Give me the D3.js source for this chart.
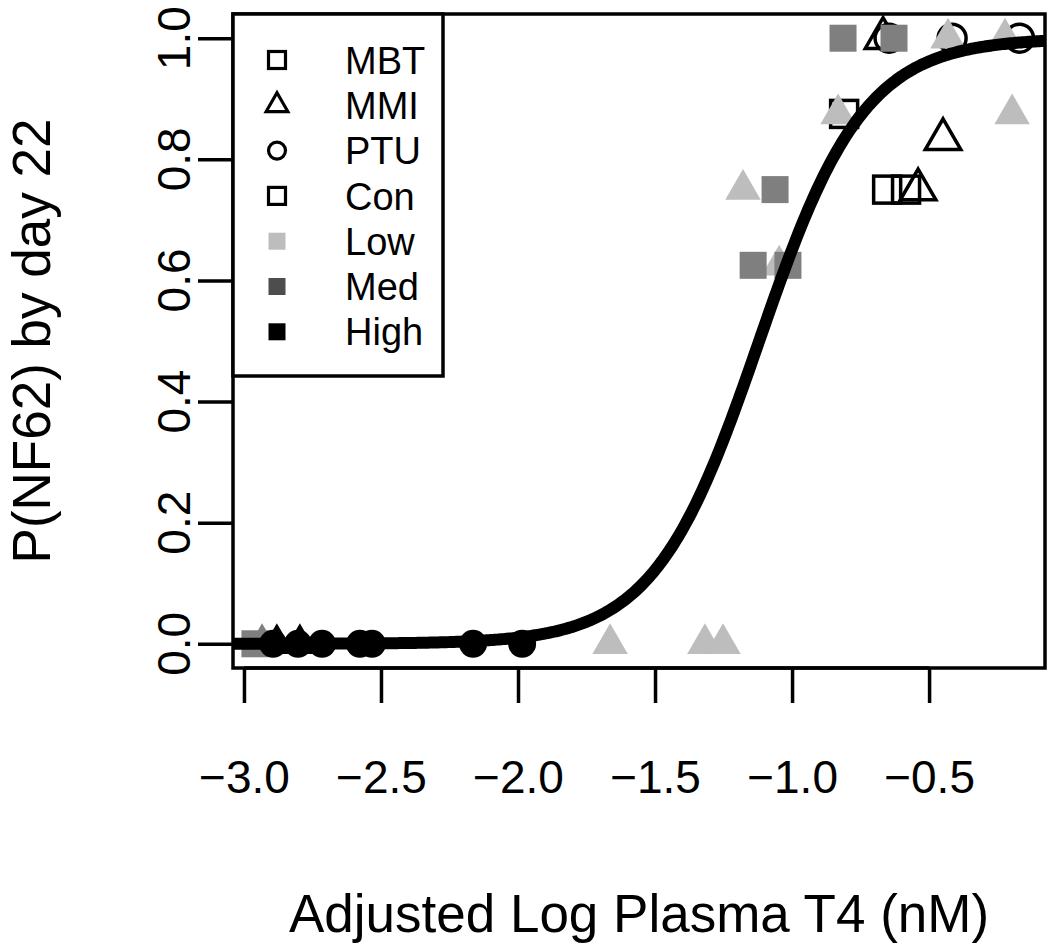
<!DOCTYPE html>
<html>
<head>
<meta charset="utf-8">
<script src="https://cdn.jsdelivr.net/npm/d3@7"></script>
<style>
  html, body { margin: 0; padding: 0; background: #fff; }
  svg { display: block; }
  text { font-family: "Liberation Sans", Arial, Helvetica, sans-serif; fill: #000; }
</style>
</head>
<body>
<svg id="chart" width="1050" height="948"></svg>
<script>
// ---------------- data (x = adjusted log plasma T4, p = P(NF62) by day 22) ----------------
const xTicks = [-3.0, -2.5, -2.0, -1.5, -1.0, -0.5];
const yTicks = [0.0, 0.2, 0.4, 0.6, 0.8, 1.0];

// control groups (open symbols, shape by chemical)
const conMBT = [[-0.810, 0.875], [-0.653, 0.75], [-0.584, 0.75]];
const conMMI = [[-0.668, 1.0], [-0.449, 0.833], [-0.540, 0.75]];
const conPTU = [[-0.646, 1.0], [-0.416, 1.0], [-0.170, 1.0]];

// treated groups (filled symbols, colour by dose)
const lowMMI  = [[-0.832, 0.875], [-0.431, 1.0], [-0.223, 1.0], [-0.197, 0.875],
                 [-1.179, 0.75], [-1.047, 0.625], [-1.664, 0.0], [-1.318, 0.0], [-1.252, 0.0]];
const medMMI  = [[-2.934, 0.0]];
const highMMI = [[-2.880, 0.0], [-2.796, 0.0]];
const medMBT  = [[-0.814, 1.0], [-0.628, 1.0], [-1.062, 0.75], [-1.142, 0.625], [-1.015, 0.625], [-2.960, 0.0]];
const highPTU = [[-2.894, 0.0], [-2.803, 0.0], [-2.715, 0.0], [-2.577, 0.0], [-2.533, 0.0], [-2.164, 0.0], [-1.985, 0.0]];

// fitted logistic curve coefficients
const fitCenter = -1.12;
const fitSlope = 5.2;

const legendLabels = ["MBT", "MMI", "PTU", "Con", "Low", "Med", "High"];
const legendShapes = ["squareOpen", "triangleOpen", "circleOpen", "squareOpen", "square", "square", "square"];

// ---------------- styling ----------------
const COL_LOW = "#bdbdbd", COL_MED = "#7f7f7f", COL_MED_LEG = "#4d4d4d", COL_HIGH = "#000000";
const legendColors = ["#000", "#000", "#000", "#000", COL_LOW, COL_MED_LEG, COL_HIGH];

const box = {left: 233, right: 1045, top: 14, bottom: 668};
const svg = d3.select("#chart");

const x = d3.scaleLinear().domain([-3.04, -0.077]).range([box.left, box.right]);
const y = d3.scaleLinear().domain([-0.04, 1.04]).range([box.bottom, box.top]);

const fmt = v => (v < 0 ? "\u2212" : "") + Math.abs(v).toFixed(1);

// symbol drawing (R-like pch geometry)
function drawSymbol(g, shape, cx, cy, s, color) {
  const sw = s.sw;
  if (shape === "square" || shape === "squareOpen") {
    const h = s.sq / 2;
    g.append("rect").attr("x", cx - h).attr("y", cy - h).attr("width", 2*h).attr("height", 2*h)
      .attr("fill", shape === "square" ? color : "none")
      .attr("stroke", shape === "square" ? "none" : color).attr("stroke-width", sw);
  } else if (shape === "circle" || shape === "circleOpen") {
    g.append("circle").attr("cx", cx).attr("cy", cy).attr("r", s.ci / 2)
      .attr("fill", shape === "circle" ? color : "none")
      .attr("stroke", shape === "circle" ? "none" : color).attr("stroke-width", sw);
  } else {
    const r = s.tr, xc = r * Math.sqrt(3) / 2, yc = r / 2;
    const pts = [[cx, cy - r], [cx + xc, cy + yc], [cx - xc, cy + yc]];
    g.append("path").attr("d", "M" + pts.map(p => p.join(",")).join("L") + "Z")
      .attr("fill", shape === "triangle" ? color : "none")
      .attr("stroke", shape === "triangle" ? "none" : color).attr("stroke-width", sw)
      .attr("stroke-linejoin", "miter");
  }
}

const ptSize = {sq: 27, ci: 28, tr: 20.5, sw: 3.5};
const ptsG = svg.append("g");
function plotGroup(data, shape, color) {
  data.forEach(d => drawSymbol(ptsG, shape, x(d[0]), y(d[1]), ptSize, color));
}

// draw order: controls, triangles, squares, circles
plotGroup(conMBT, "squareOpen", "#000");
plotGroup(conMMI, "triangleOpen", "#000");
plotGroup(conPTU, "circleOpen", "#000");
plotGroup(lowMMI, "triangle", COL_LOW);
plotGroup(medMMI, "triangle", COL_MED);
plotGroup(highMMI, "triangle", COL_HIGH);
plotGroup(medMBT, "square", COL_MED);
plotGroup(highPTU, "circle", COL_HIGH);

// fitted curve across the plot region
const xs = d3.range(0, 401).map(i => x.domain()[0] + (x.domain()[1] - x.domain()[0]) * i / 400);
const line = d3.line().x(v => x(v)).y(v => y(1 / (1 + Math.exp(-fitSlope * (v - fitCenter)))));
svg.append("path").datum(xs).attr("d", line).attr("fill", "none")
  .attr("stroke", "#000").attr("stroke-width", 12);

// ---------------- axes ----------------
const xAxis = d3.axisBottom(x).tickValues(xTicks).tickSize(35).tickSizeOuter(0).tickPadding(57).tickFormat(fmt);
const gx = svg.append("g").attr("transform", `translate(0,${box.bottom})`).call(xAxis);
gx.select(".domain").remove();
gx.selectAll(".tick line").attr("stroke", "#000").attr("stroke-width", 3.5);
gx.selectAll(".tick text").style("font-size", "46px").attr("fill", "#000");
svg.append("line").attr("x1", x(xTicks[0])).attr("x2", x(xTicks[xTicks.length - 1]))
  .attr("y1", box.bottom).attr("y2", box.bottom).attr("stroke", "#000").attr("stroke-width", 3.5);

const yAxis = d3.axisLeft(y).tickValues(yTicks).tickSize(35).tickSizeOuter(0).tickFormat(d => d.toFixed(1));
const gy = svg.append("g").attr("transform", `translate(${box.left},0)`).call(yAxis);
gy.select(".domain").remove();
gy.selectAll(".tick line").attr("stroke", "#000").attr("stroke-width", 3.5);
gy.selectAll(".tick text").remove();
svg.append("g").selectAll("text").data(yTicks).join("text")
  .attr("transform", d => `translate(173,${y(d)}) rotate(-90)`)
  .attr("text-anchor", "middle").attr("dy", "0.36em")
  .style("font-size", "46px").text(d => d.toFixed(1));

// plot box
svg.append("rect").attr("x", box.left).attr("y", box.top)
  .attr("width", box.right - box.left).attr("height", box.bottom - box.top)
  .attr("fill", "none").attr("stroke", "#000").attr("stroke-width", 3.5);

// axis titles
svg.append("text").attr("x", (box.left + box.right) / 2).attr("y", 932)
  .attr("text-anchor", "middle").style("font-size", "53px").text("Adjusted Log Plasma T4 (nM)");
svg.append("text").attr("transform", `translate(50,${(box.top + box.bottom) / 2}) rotate(-90)`)
  .attr("text-anchor", "middle").style("font-size", "53px").text("P(NF62) by day 22");

// ---------------- legend ----------------
const leg = svg.append("g");
leg.append("rect").attr("x", box.left).attr("y", box.top).attr("width", 210).attr("height", 362)
  .attr("fill", "#fff").attr("stroke", "#000").attr("stroke-width", 3.5);
const legSize = {sq: 17, ci: 17, tr: 12.5, sw: 3.2};
legendLabels.forEach((lab, i) => {
  const cy = 60 + i * 45.3;
  drawSymbol(leg, legendShapes[i], 277, cy, legSize, legendColors[i]);
  leg.append("text").attr("x", 345).attr("y", cy).attr("dy", "0.36em")
    .style("font-size", "38px").text(lab);
});
</script>
</body>
</html>
